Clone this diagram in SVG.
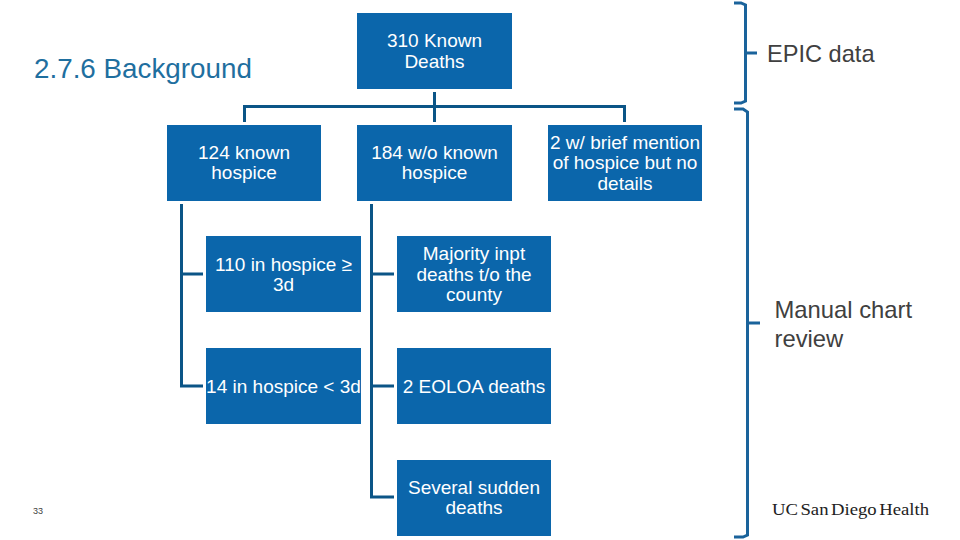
<svg xmlns="http://www.w3.org/2000/svg" width="960" height="540" viewBox="0 0 960 540">
<style>
.b{fill:#0b66ab}
.t{font-family:"Liberation Sans",Arial,sans-serif;font-size:19px;fill:#fff;text-anchor:middle}
.d{font-family:"Liberation Sans",Arial,sans-serif;fill:#404040}
.c{fill:none;stroke:#0b5587;stroke-width:3}
.br{fill:none;stroke:#1a639b;stroke-width:3}
</style>
<rect width="960" height="540" fill="#fff"/>
<g id="connectors">
<path class="c" d="M244.500 122V106.500H624.500V122M434.500 92V122"/>
<path class="c" d="M181.500 204V386H203M181.500 274H203"/>
<path class="c" d="M371.500 204V497H394M371.500 274H394M371.500 386H394"/>
</g>
<g id="bracket-epic"><path class="br" d="M734 3H741L745.500 5V101L741 103H734M746 53H757"/></g>
<g id="bracket-chart"><path class="br" d="M734 109H743L747.500 112V535L743 537H734M748 323H760"/></g>
<g id="title"><text x="34" y="78" font-family="'Liberation Sans',Arial,sans-serif" fill="#1f6f9f" font-size="27.800">2.7.6 Background</text></g>
<g id="n310"><rect class="b" x="357" y="13" width="155" height="76"/><text class="t" x="434.500" y="47">310 Known</text><text class="t" x="434.500" y="68">Deaths</text></g>
<g id="n124"><rect class="b" x="167" y="125" width="154" height="76"/><text class="t" x="244" y="159">124 known</text><text class="t" x="244" y="179">hospice</text></g>
<g id="n184"><rect class="b" x="357" y="125" width="155" height="76"/><text class="t" x="434.500" y="159">184 w/o known</text><text class="t" x="434.500" y="179">hospice</text></g>
<g id="n2"><rect class="b" x="548" y="125" width="154" height="76"/><text class="t" x="625" y="149">2 w/ brief mention</text><text class="t" x="625" y="169">of hospice but no</text><text class="t" x="625" y="190">details</text></g>
<g id="n110"><rect class="b" x="206" y="236" width="155" height="76"/><text class="t" x="283.500" y="271">110 in hospice ≥</text><text class="t" x="283.500" y="291">3d</text></g>
<g id="nmaj"><rect class="b" x="397" y="236" width="154" height="76"/><text class="t" x="474" y="260">Majority inpt</text><text class="t" x="474" y="281">deaths t/o the</text><text class="t" x="474" y="301">county</text></g>
<g id="n14"><rect class="b" x="206" y="348" width="155" height="76"/><text class="t" x="283.500" y="393">14 in hospice &lt; 3d</text></g>
<g id="neoloa"><rect class="b" x="397" y="348" width="154" height="76"/><text class="t" x="474" y="393">2 EOLOA deaths</text></g>
<g id="nsudden"><rect class="b" x="397" y="460" width="154" height="76"/><text class="t" x="474" y="494">Several sudden</text><text class="t" x="474" y="514">deaths</text></g>
<g id="labels">
<text class="d" x="767" y="62" font-size="23.600">EPIC data</text>
<text class="d" x="774.500" y="318" font-size="23.800">Manual chart</text>
<text class="d" x="774.500" y="347" font-size="23.800">review</text>
<text class="d" x="33" y="514" font-size="9">33</text>
<text x="772" y="515" font-family="'Liberation Serif',serif" font-size="17" word-spacing="-2" fill="#222" textLength="157" lengthAdjust="spacingAndGlyphs">UC San Diego Health</text>
</g>
</svg>
